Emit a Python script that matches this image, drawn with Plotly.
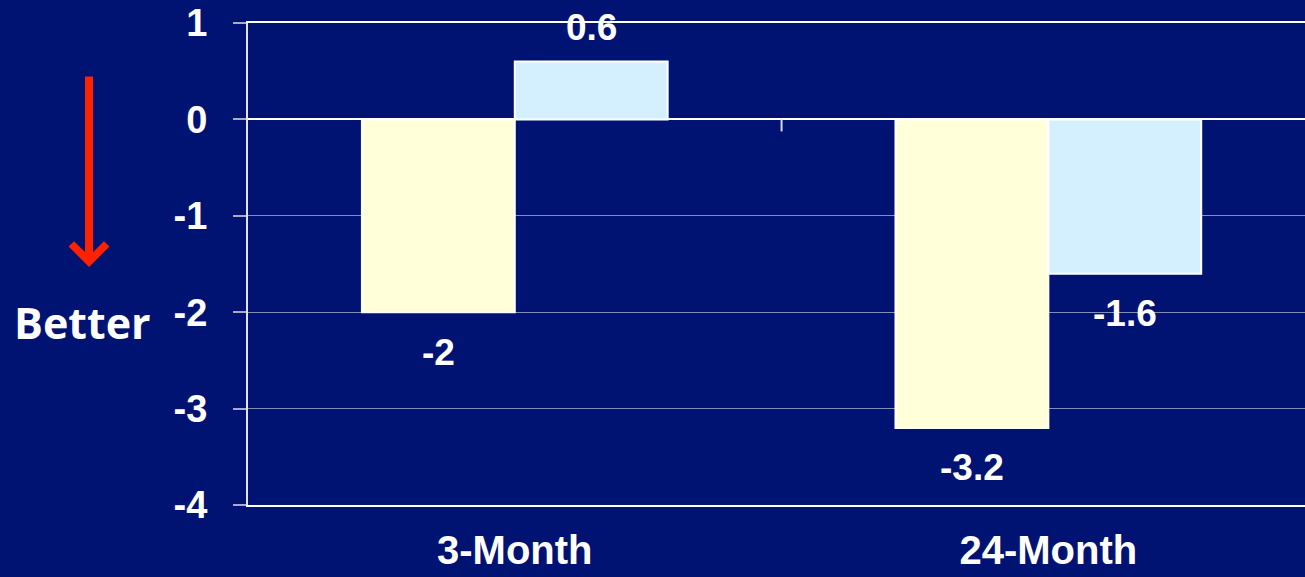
import plotly.graph_objects as go

categories = ["3-Month", "24-Month"]
series_a = [-2.0, -3.2]   # yellow bars
series_b = [0.6, -1.6]    # light-blue bars
y_ticks = [1, 0, -1, -2, -3, -4]
side_label = "Better"

BG = "#001272"
YELLOW = "#FFFFD9"
BLUE = "#D4F0FF"
NUM_FONT = "Liberation Sans, Arial, sans-serif"

bargap = 0.427
bar_w = (1 - bargap) / 2

fig = go.Figure()
for vals, col in [(series_a, YELLOW), (series_b, BLUE)]:
    fig.add_trace(go.Bar(
        x=categories, y=vals,
        marker=dict(color=col, line=dict(color="white", width=2)),
        showlegend=False, hoverinfo="skip",
    ))

# value labels
for offset, vals in [(-bar_w / 2, series_a), (bar_w / 2, series_b)]:
    for i, v in enumerate(vals):
        fig.add_annotation(
            x=i + offset, y=v, xref="x", yref="y",
            text=f"{v:g}", showarrow=False,
            yshift=34 if v > 0 else -40,
            font=dict(family=NUM_FONT, size=37, color="white", weight="bold"),
        )

# category-boundary tick on zero line
fig.add_shape(type="line", xref="x", yref="y", x0=0.5, x1=0.5,
              ysizemode="pixel", yanchor=0, y0=0, y1=-12,
              line=dict(color="#D8DAEA", width=2))

# red arrow
fig.add_annotation(
    xref="paper", yref="paper", x=-0.1504, y=0.4938,
    ax=0, ay=-192, showarrow=True, text="",
    arrowhead=4, arrowsize=0.85, arrowwidth=8, arrowcolor="#FF2200",
)
# "Better" label
fig.add_annotation(
    xref="paper", yref="paper", x=-0.157, y=0.378,
    text=side_label, showarrow=False, xanchor="center", yanchor="middle",
    font=dict(family="Open Sans, sans-serif", size=43, color="white", weight="bold"),
)

fig.update_layout(
    width=1305, height=577,
    paper_bgcolor=BG, plot_bgcolor=BG,
    margin=dict(l=248, r=0, t=23, b=72, autoexpand=False),
    barmode="group", bargap=bargap, bargroupgap=0,
    xaxis=dict(
        type="category", range=[-0.5, 1.481], automargin=False,
        showline=True, linecolor="white", linewidth=2, mirror=True,
        showgrid=False, ticks="", ticklabelstandoff=9,
        tickfont=dict(family=NUM_FONT, size=40, color="white", weight="bold"),
    ),
    yaxis=dict(
        range=[-4, 1], tickvals=y_ticks, ticktext=[str(t) for t in y_ticks],
        automargin=False,
        showline=True, linecolor="#E0E2EE", linewidth=2,
        showgrid=True, gridcolor="rgba(220,222,235,0.6)", gridwidth=1,
        zeroline=True, zerolinecolor="white", zerolinewidth=2,
        ticks="outside", ticklen=13, tickcolor="#A8ACC8", tickwidth=2,
        ticklabelstandoff=18,
        tickfont=dict(family=NUM_FONT, size=38, color="white", weight="bold"),
    ),
)

fig.write_html(
    "out.html",
    config={"displayModeBar": False},
    post_script=("document.body.style.margin='0';"
                 "document.body.style.background='" + BG + "';"
                 "document.body.style.overflow='hidden';"),
)
